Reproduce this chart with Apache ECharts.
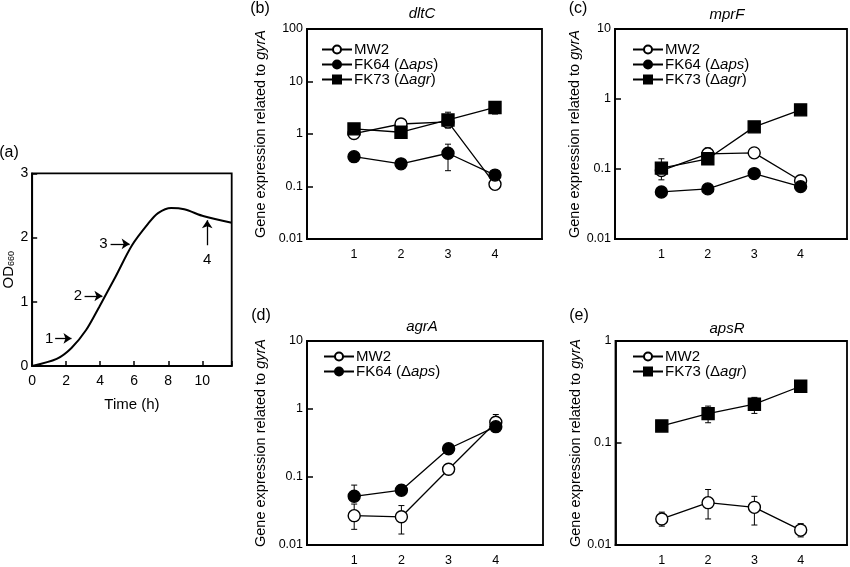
<!DOCTYPE html>
<html>
<head>
<meta charset="utf-8">
<title>Growth and gene expression</title>
<script src="https://cdn.jsdelivr.net/npm/echarts@6/dist/echarts.min.js"></script>
<style>
  html, body { margin: 0; padding: 0; background: #fff; }
  #chart { width: 850px; height: 567px; }
</style>
</head>
<body>
<div id="chart"></div>
<script>
// (a) growth curve
var growthTime = [0, 1.44, 2.31, 3.17, 3.94, 4.9, 5.87, 6.83, 7.4, 8.17, 8.94, 10.1, 11.73];
var growthOD = [0, 0.11, 0.28, 0.56, 0.92, 1.39, 1.88, 2.22, 2.38, 2.46, 2.44, 2.33, 2.23];
// sampling points marked with arrows: [label, time, OD]
var sampleMarks = [['1', 2.31, 0.43], ['2', 4.13, 1.09], ['3', 5.73, 1.9], ['4', 10.29, 2.27]];

// (b)-(e) sampling points
var days = [1, 2, 3, 4];
var dayLabels = ['1', '2', '3', '4'];

// dltC
var dltcMW2 = [1.02, 1.55, 1.7, 0.11];
var dltcMW2Lo = [1.02, 1.55, 1.3, 0.11];
var dltcMW2Hi = [1.02, 1.55, 1.7, 0.11];
var dltcFK64 = [0.37, 0.27, 0.43, 0.165];
var dltcFK64Lo = [0.37, 0.27, 0.2, 0.165];
var dltcFK64Hi = [0.37, 0.27, 0.64, 0.165];
var dltcFK73 = [1.25, 1.08, 1.85, 3.2];
var dltcFK73Lo = [1.25, 1.08, 1.85, 2.4];
var dltcFK73Hi = [1.25, 1.08, 2.6, 4.1];

// mprF
var mprfMW2 = [0.095, 0.165, 0.17, 0.068];
var mprfMW2Lo = [0.07, 0.165, 0.17, 0.068];
var mprfMW2Hi = [0.095, 0.2, 0.17, 0.068];
var mprfFK64 = [0.047, 0.052, 0.086, 0.056];
var mprfFK73 = [0.103, 0.14, 0.40, 0.70];
var mprfFK73Lo = [0.103, 0.14, 0.40, 0.70];
var mprfFK73Hi = [0.14, 0.14, 0.40, 0.70];

// agrA
var agraMW2 = [0.027, 0.026, 0.13, 0.64];
var agraMW2Lo = [0.017, 0.0145, 0.13, 0.64];
var agraMW2Hi = [0.04, 0.038, 0.13, 0.83];
var agraFK64 = [0.052, 0.064, 0.26, 0.55];
var agraFK64Lo = [0.052, 0.055, 0.26, 0.55];
var agraFK64Hi = [0.076, 0.076, 0.26, 0.55];

// apsR
var apsrMW2 = [0.018, 0.026, 0.0234, 0.014];
var apsrMW2Lo = [0.0153, 0.018, 0.0157, 0.012];
var apsrMW2Hi = [0.021, 0.035, 0.030, 0.0162];
var apsrFK73 = [0.147, 0.194, 0.24, 0.36];
var apsrFK73Lo = [0.147, 0.158, 0.195, 0.36];
var apsrFK73Hi = [0.147, 0.23, 0.28, 0.36];

var FONT = 'Liberation Sans';
var legendText = {
    'MW2': 'MW2',
    'FK64': 'FK64 (\u0394{i|aps})',
    'FK73': 'FK73 (\u0394{i|agr})'
};
var strainStyle = {
    'MW2': { symbol: 'circle', fill: '#fff' },
    'FK64': { symbol: 'circle', fill: '#000' },
    'FK73': { symbol: 'rect', fill: '#000' }
};

function pairs(xs, ys) {
    return xs.map(function (x, i) { return [x, ys[i]]; });
}

function strainLine(name, vals, idx) {
    var st = strainStyle[name];
    return {
        name: name,
        type: 'line',
        xAxisIndex: idx,
        yAxisIndex: idx,
        data: pairs(days, vals),
        symbol: st.symbol,
        symbolSize: 12,
        showSymbol: true,
        lineStyle: { color: '#000', width: 1.3 },
        itemStyle: { color: st.fill, borderColor: '#000', borderWidth: 1.4 },
        z: 3
    };
}

function renderErr(params, api) {
    var x = api.value(0), lo = api.value(1), hi = api.value(2);
    if (lo === hi) return;
    var p1 = api.coord([x, lo]);
    var p2 = api.coord([x, hi]);
    var w = 3;
    var st = { stroke: '#000', lineWidth: 1 };
    return {
        type: 'group',
        children: [
            { type: 'line', shape: { x1: p1[0], y1: p1[1], x2: p2[0], y2: p2[1] }, style: st },
            { type: 'line', shape: { x1: p1[0] - w, y1: p1[1], x2: p1[0] + w, y2: p1[1] }, style: st },
            { type: 'line', shape: { x1: p2[0] - w, y1: p2[1], x2: p2[0] + w, y2: p2[1] }, style: st }
        ]
    };
}

function errBars(lo, hi, idx) {
    return {
        type: 'custom',
        xAxisIndex: idx,
        yAxisIndex: idx,
        renderItem: renderErr,
        data: days.map(function (d, i) { return [d, lo[i], hi[i]]; }),
        encode: { x: 0, y: [1, 2] },
        silent: true,
        z: 2
    };
}

function logLabel(v) {
    return String(Number(Number(v).toPrecision(1)));
}

var grids = [
    { left: 28.3, top: 173.3, width: 203.4, height: 192.7 },
    { left: 307, top: 29, width: 235, height: 210 },
    { left: 615, top: 29, width: 233, height: 210 },
    { left: 307, top: 341, width: 236, height: 208.5 },
    { left: 615.5, top: 341, width: 232, height: 208.5 }
];
grids.forEach(function (g) {
    g.show = true;
    g.borderColor = '#000';
    g.borderWidth = 1.8;
    g.backgroundColor = 'transparent';
});

var axisLine = { lineStyle: { color: '#000', width: 1.8 } };

var xAxes = [{
    type: 'value', gridIndex: 0, min: 0, max: 11.73, interval: 2,
    name: 'Time (h)', nameLocation: 'middle', nameGap: 31,
    nameTextStyle: { fontFamily: FONT, fontSize: 15, color: '#000' },
    axisLine: axisLine,
    axisTick: { inside: true, length: 5, lineStyle: { color: '#000', width: 1.5 } },
    axisLabel: {
        margin: 8, fontFamily: FONT, fontSize: 14, color: '#000',
        formatter: function (v) { return v % 2 === 0 ? String(v) : ''; }
    },
    splitLine: { show: false }
}];
var yAxes = [{
    type: 'value', gridIndex: 0, min: 0, max: 3, interval: 1,
    name: 'OD{s|660}', nameLocation: 'middle', nameGap: 14, nameRotate: 90,
    nameTextStyle: {
        fontFamily: FONT, fontSize: 15, color: '#000',
        rich: { s: { fontFamily: FONT, fontSize: 9, color: '#000', padding: [7, 0, 0, 0] } }
    },
    axisLine: axisLine,
    axisTick: { inside: true, length: 5, lineStyle: { color: '#000', width: 1.5 } },
    axisLabel: { margin: 4, fontFamily: FONT, fontSize: 14, color: '#000' },
    splitLine: { show: false }
}];

var yMax = [100, 10, 10, 1];
var yGap = [39, 25, 39, 25];
for (var k = 1; k <= 4; k++) {
    xAxes.push({
        type: 'value', gridIndex: k, min: 0, max: 5, interval: 1,
        axisLine: axisLine,
        axisTick: { show: false },
        axisLabel: {
            margin: 9, fontFamily: FONT, fontSize: 12.5, color: '#000',
            formatter: function (v) { return dayLabels[days.indexOf(v)] || ''; }
        },
        splitLine: { show: false }
    });
    yAxes.push({
        type: 'log', logBase: 10, gridIndex: k, min: 0.01, max: yMax[k - 1],
        name: 'Gene expression related to {i|gyrA}',
        nameLocation: 'middle', nameRotate: 90, nameGap: yGap[k - 1],
        nameTextStyle: {
            fontFamily: FONT, fontSize: 14.5, color: '#000',
            rich: { i: { fontFamily: FONT, fontSize: 14.5, fontStyle: 'italic', color: '#000' } }
        },
        axisLine: axisLine,
        axisTick: { inside: true, length: 6, lineStyle: { color: '#000', width: 1.5 } },
        minorTick: { show: false },
        axisLabel: { margin: 4, fontFamily: FONT, fontSize: 12.5, color: '#000', formatter: logLabel },
        splitLine: { show: false }
    });
}

function makeLegend(names, left, top) {
    return {
        orient: 'vertical', left: left, top: top,
        data: names, itemWidth: 30, itemHeight: 10, itemGap: 0,
        selectedMode: false,
        formatter: function (n) { return legendText[n]; },
        textStyle: {
            fontFamily: FONT, fontSize: 15, color: '#000', padding: [0, 0, 0, -3],
            rich: { i: { fontFamily: FONT, fontSize: 15, fontStyle: 'italic', color: '#000' } }
        }
    };
}

var series = [{
    type: 'line', xAxisIndex: 0, yAxisIndex: 0,
    data: pairs(growthTime, growthOD),
    smooth: 0.3, showSymbol: false,
    lineStyle: { color: '#000', width: 2 },
    markLine: {
        silent: true, symbol: ['none', 'arrow'], symbolSize: 8,
        lineStyle: { color: '#000', width: 1.3, type: 'solid' },
        label: { show: false },
        data: [
            [{ coord: [1.35, 0.43] }, { coord: [2.31, 0.43] }],
            [{ coord: [3.08, 1.09] }, { coord: [4.13, 1.09] }],
            [{ coord: [4.61, 1.9] }, { coord: [5.73, 1.9] }],
            [{ coord: [10.29, 1.88] }, { coord: [10.29, 2.27] }]
        ]
    },
    markPoint: {
        silent: true, symbol: 'circle', symbolSize: 2,
        itemStyle: { color: 'rgba(0,0,0,0)' },
        label: {
            show: true, position: 'inside', fontFamily: FONT, fontSize: 15, color: '#000',
            formatter: function (p) { return p.name; }
        },
        data: [
            { name: sampleMarks[0][0], coord: [1.0, sampleMarks[0][2]] },
            { name: sampleMarks[1][0], coord: [2.69, sampleMarks[1][2]] },
            { name: sampleMarks[2][0], coord: [4.19, sampleMarks[2][2]] },
            { name: sampleMarks[3][0], coord: [10.29, 1.65] }
        ]
    }
}];

// (b) dltC
series.push(errBars(dltcMW2Lo, dltcMW2Hi, 1), errBars(dltcFK64Lo, dltcFK64Hi, 1), errBars(dltcFK73Lo, dltcFK73Hi, 1));
series.push(strainLine('MW2', dltcMW2, 1), strainLine('FK64', dltcFK64, 1), strainLine('FK73', dltcFK73, 1));
// (c) mprF
series.push(errBars(mprfMW2Lo, mprfMW2Hi, 2), errBars(mprfFK73Lo, mprfFK73Hi, 2));
series.push(strainLine('MW2', mprfMW2, 2), strainLine('FK64', mprfFK64, 2), strainLine('FK73', mprfFK73, 2));
// (d) agrA
series.push(errBars(agraMW2Lo, agraMW2Hi, 3), errBars(agraFK64Lo, agraFK64Hi, 3));
series.push(strainLine('MW2', agraMW2, 3), strainLine('FK64', agraFK64, 3));
// (e) apsR
series.push(errBars(apsrMW2Lo, apsrMW2Hi, 4), errBars(apsrFK73Lo, apsrFK73Hi, 4));
series.push(strainLine('MW2', apsrMW2, 4), strainLine('FK73', apsrFK73, 4));

function label(text, x, y, font) {
    return {
        type: 'text', x: x, y: y, silent: true,
        style: {
            text: text, font: font, fill: '#000',
            align: 'center', verticalAlign: 'middle',
            textAlign: 'center', textVerticalAlign: 'middle'
        }
    };
}
var plain = '16px "Liberation Sans"';
var ital = 'italic 15px "Liberation Sans"';

var chart = echarts.init(document.getElementById('chart'));
chart.setOption({
    animation: false,
    backgroundColor: '#fff',
    grid: grids,
    xAxis: xAxes,
    yAxis: yAxes,
    legend: [
        makeLegend(['MW2', 'FK64', 'FK73'], 316, 37),
        makeLegend(['MW2', 'FK64', 'FK73'], 627, 37),
        makeLegend(['MW2', 'FK64'], 318, 344),
        makeLegend(['MW2', 'FK73'], 627, 344)
    ],
    graphic: [
        label('(a)', 9, 153, plain),
        label('(b)', 260, 9, plain),
        label('(c)', 578, 9, plain),
        label('(d)', 261, 316, plain),
        label('(e)', 579, 316, plain),
        label('dltC', 422, 14, ital),
        label('mprF', 727, 15, ital),
        label('agrA', 422, 327, ital),
        label('apsR', 727, 329, ital)
    ],
    series: series
});
</script>
</body>
</html>
